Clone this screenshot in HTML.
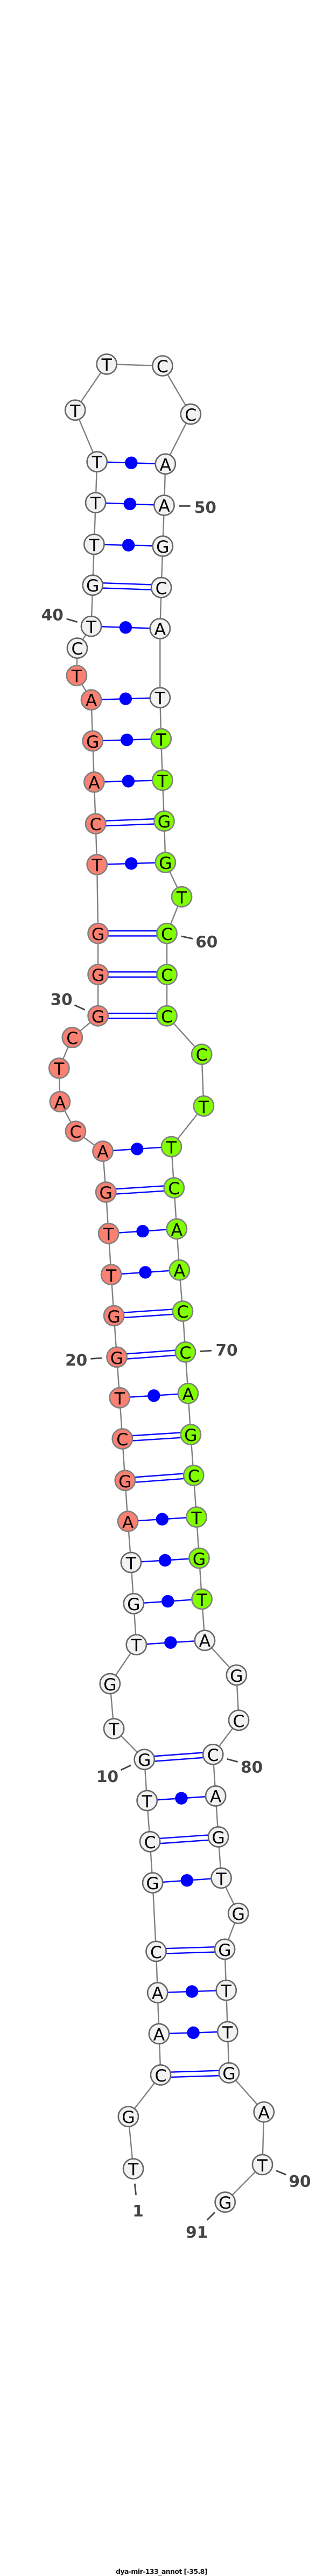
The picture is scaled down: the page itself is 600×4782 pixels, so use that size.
<!DOCTYPE html>
<html><head><meta charset="utf-8"><title>dya-mir-133_annot</title>
<style>
html,body{margin:0;padding:0;background:#fff}
svg{display:block}
.b{stroke:#808080;stroke-width:2.4;fill:none}
.p{stroke:#0000ff;stroke-width:2.4;fill:none}
.d{fill:#0000ff}
.w circle{fill:#f2f2f2;stroke:#666;stroke-width:2.6}
.s circle{fill:#fa8072;stroke:#808080;stroke-width:2.6}
.g circle{fill:#7fff00;stroke:#808080;stroke-width:2.6}
.n text{font:31.5px "DejaVu Sans",sans-serif;fill:#000;text-anchor:middle}
.t{stroke:#444;stroke-width:2.8}
.l{font:bold 29.5px "DejaVu Sans",sans-serif;fill:#444;text-anchor:middle}
.h{font:bold 12.5px "DejaVu Sans",sans-serif;fill:#111}
</style></head><body>
<svg xmlns="http://www.w3.org/2000/svg" width="600" height="4782" viewBox="0 0 600 4782">
<rect width="600" height="4782" fill="#fff"/>
<polyline class="b" points="247.6,4026 238.4,3929 298.5,3852 295.4,3775.5 292.7,3699.2 290,3622.4 283.6,3495.2 278.6,3418.8 273.2,3342.5 268.2,3266.2 211.6,3209 204.3,3125.5 253.3,3053.2 248.3,2976.9 243.4,2900.5 237.6,2824.2 232.3,2748.3 227.3,2671 222.3,2594.8 217,2519.3 211.6,2442.5 206.6,2366.2 201.7,2289.8 196.7,2213 191,2137.1 140.4,2100.1 111.4,2045.2 109.8,1983 134.3,1926 182.1,1885.8 182.1,1809 182.1,1732.7 180.2,1605 177.6,1529.1 174.9,1451.9 172.2,1375.5 169.5,1299.2 142.4,1254.1 143.5,1203.2 169.5,1162.6 172.2,1086.3 174.9,1010.4 177.6,933.1 180.2,857.2 139.7,761.3 198.2,676 301.9,679.1 354.3,768.8 307.3,861.3 305,938 302.3,1013.9 299.6,1090.7 297.3,1167 297.3,1295.2 299.2,1371.5 301.9,1448.3 305,1524.2 307.3,1601 337.5,1664.8 310,1732.7 310,1809 310,1885.8 374.6,1957.2 378.4,2053.2 318.4,2128.7 323.3,2205 328.3,2281.3 333.3,2357.7 339.4,2434 344.4,2509.9 349.4,2586.7 354.3,2663 359.7,2738.9 365,2816.2 370,2892.5 375,2968.4 380.4,3045.2 439.3,3109.5 443.5,3193.4 395.7,3256.8 400.6,3334 405.6,3409.9 411,3486.3 442.7,3551.9 417.5,3618.4 420.2,3694.7 422.8,3771.5 425.5,3847.9 490.2,3920.6 487.5,4018.4 418.2,4088"/>
<g class="p">
<line x1="180.2" y1="857.2" x2="307.3" y2="861.3"/>
<line x1="177.6" y1="933.1" x2="305" y2="938"/>
<line x1="174.9" y1="1010.4" x2="302.3" y2="1013.9"/>
<line x1="172.2" y1="1081.6" x2="299.6" y2="1086"/><line x1="172.2" y1="1091" x2="299.6" y2="1095.4"/>
<line x1="169.5" y1="1162.6" x2="297.3" y2="1167"/>
<line x1="169.5" y1="1299.2" x2="297.3" y2="1295.2"/>
<line x1="172.2" y1="1375.5" x2="299.2" y2="1371.5"/>
<line x1="174.9" y1="1451.9" x2="301.9" y2="1448.3"/>
<line x1="177.6" y1="1524.4" x2="305" y2="1519.5"/><line x1="177.6" y1="1533.8" x2="305" y2="1528.9"/>
<line x1="180.2" y1="1605" x2="307.3" y2="1601"/>
<line x1="182.1" y1="1728" x2="310" y2="1728"/><line x1="182.1" y1="1737.4" x2="310" y2="1737.4"/>
<line x1="182.1" y1="1804.3" x2="310" y2="1804.3"/><line x1="182.1" y1="1813.7" x2="310" y2="1813.7"/>
<line x1="182.1" y1="1881.1" x2="310" y2="1881.1"/><line x1="182.1" y1="1890.5" x2="310" y2="1890.5"/>
<line x1="191" y1="2137.1" x2="318.4" y2="2128.7"/>
<line x1="196.7" y1="2208.3" x2="323.3" y2="2200.3"/><line x1="196.7" y1="2217.7" x2="323.3" y2="2209.7"/>
<line x1="201.7" y1="2289.8" x2="328.3" y2="2281.3"/>
<line x1="206.6" y1="2366.2" x2="333.3" y2="2357.7"/>
<line x1="211.6" y1="2437.8" x2="339.4" y2="2429.3"/><line x1="211.6" y1="2447.2" x2="339.4" y2="2438.7"/>
<line x1="217" y1="2514.6" x2="344.4" y2="2505.2"/><line x1="217" y1="2524" x2="344.4" y2="2514.6"/>
<line x1="222.3" y1="2594.8" x2="349.4" y2="2586.7"/>
<line x1="227.3" y1="2666.3" x2="354.3" y2="2658.3"/><line x1="227.3" y1="2675.7" x2="354.3" y2="2667.7"/>
<line x1="232.3" y1="2743.6" x2="359.7" y2="2734.2"/><line x1="232.3" y1="2753" x2="359.7" y2="2743.6"/>
<line x1="237.6" y1="2824.2" x2="365" y2="2816.2"/>
<line x1="243.4" y1="2900.5" x2="370" y2="2892.5"/>
<line x1="248.3" y1="2976.9" x2="375" y2="2968.4"/>
<line x1="253.3" y1="3053.2" x2="380.4" y2="3045.2"/>
<line x1="268.2" y1="3261.5" x2="395.7" y2="3252.1"/><line x1="268.2" y1="3270.9" x2="395.7" y2="3261.5"/>
<line x1="273.2" y1="3342.5" x2="400.6" y2="3334"/>
<line x1="278.6" y1="3414.1" x2="405.6" y2="3405.2"/><line x1="278.6" y1="3423.5" x2="405.6" y2="3414.6"/>
<line x1="283.6" y1="3495.2" x2="411" y2="3486.3"/>
<line x1="290" y1="3617.7" x2="417.5" y2="3613.7"/><line x1="290" y1="3627.1" x2="417.5" y2="3623.1"/>
<line x1="292.7" y1="3699.2" x2="420.2" y2="3694.7"/>
<line x1="295.4" y1="3775.5" x2="422.8" y2="3771.5"/>
<line x1="298.5" y1="3847.2" x2="425.5" y2="3843.2"/><line x1="298.5" y1="3856.6" x2="425.5" y2="3852.6"/>
</g>
<g class="d">
<circle cx="243.8" cy="859.2" r="11.7"/>
<circle cx="241.3" cy="935.5" r="11.7"/>
<circle cx="238.6" cy="1012.1" r="11.7"/>
<circle cx="233.4" cy="1164.8" r="11.7"/>
<circle cx="233.4" cy="1297.2" r="11.7"/>
<circle cx="235.7" cy="1373.5" r="11.7"/>
<circle cx="238.4" cy="1450.1" r="11.7"/>
<circle cx="243.8" cy="1603" r="11.7"/>
<circle cx="254.7" cy="2132.9" r="11.7"/>
<circle cx="265" cy="2285.6" r="11.7"/>
<circle cx="270" cy="2361.9" r="11.7"/>
<circle cx="285.8" cy="2590.8" r="11.7"/>
<circle cx="301.3" cy="2820.2" r="11.7"/>
<circle cx="306.7" cy="2896.5" r="11.7"/>
<circle cx="311.7" cy="2972.6" r="11.7"/>
<circle cx="316.9" cy="3049.2" r="11.7"/>
<circle cx="336.9" cy="3338.2" r="11.7"/>
<circle cx="347.3" cy="3490.7" r="11.7"/>
<circle cx="356.5" cy="3697" r="11.7"/>
<circle cx="359.1" cy="3773.5" r="11.7"/>
</g>
<g class="n w">
<circle cx="247.6" cy="4026" r="18.6"/><text x="247.6" y="4038">T</text>
<circle cx="238.4" cy="3929.1" r="18.6"/><text x="238.4" y="3941">G</text>
<circle cx="298.5" cy="3851.9" r="18.6"/><text x="298.5" y="3864">C</text>
<circle cx="295.4" cy="3775.5" r="18.6"/><text x="295.4" y="3788">A</text>
<circle cx="292.7" cy="3699.2" r="18.6"/><text x="292.7" y="3711">A</text>
<circle cx="290" cy="3622.4" r="18.6"/><text x="290" y="3635">C</text>
<circle cx="283.6" cy="3495.2" r="18.6"/><text x="283.6" y="3507">G</text>
<circle cx="278.6" cy="3418.8" r="18.6"/><text x="278.6" y="3431">C</text>
<circle cx="273.2" cy="3342.5" r="18.6"/><text x="273.2" y="3355">T</text>
<circle cx="268.2" cy="3266.2" r="18.6"/><text x="268.2" y="3278">G</text>
<circle cx="211.6" cy="3209" r="18.6"/><text x="211.6" y="3221">T</text>
<circle cx="204.3" cy="3125.5" r="18.6"/><text x="204.3" y="3138">G</text>
<circle cx="253.3" cy="3053.2" r="18.6"/><text x="253.3" y="3065">T</text>
<circle cx="248.3" cy="2976.9" r="18.6"/><text x="248.3" y="2989">G</text>
<circle cx="243.4" cy="2900.5" r="18.6"/><text x="243.4" y="2913">T</text>
<circle cx="143.5" cy="1203.2" r="18.6"/><text x="143.5" y="1215">C</text>
<circle cx="169.5" cy="1162.6" r="18.6"/><text x="169.5" y="1175">T</text>
<circle cx="172.2" cy="1086.3" r="18.6"/><text x="172.2" y="1098">G</text>
<circle cx="174.9" cy="1010.4" r="18.6"/><text x="174.9" y="1023">T</text>
<circle cx="177.6" cy="933.1" r="18.6"/><text x="177.6" y="945">T</text>
<circle cx="180.2" cy="857.2" r="18.6"/><text x="180.2" y="869">T</text>
<circle cx="139.7" cy="761.3" r="18.6"/><text x="139.7" y="774">T</text>
<circle cx="198.2" cy="676" r="18.6"/><text x="198.2" y="688">T</text>
<circle cx="301.9" cy="679.1" r="18.6"/><text x="301.9" y="691">C</text>
<circle cx="354.3" cy="768.8" r="18.6"/><text x="354.3" y="781">C</text>
<circle cx="307.3" cy="861.3" r="18.6"/><text x="307.3" y="874">A</text>
<circle cx="305" cy="938" r="18.6"/><text x="305" y="950">A</text>
<circle cx="302.3" cy="1013.9" r="18.6"/><text x="302.3" y="1026">G</text>
<circle cx="299.6" cy="1090.7" r="18.6"/><text x="299.6" y="1103">C</text>
<circle cx="297.3" cy="1167" r="18.6"/><text x="297.3" y="1179">A</text>
<circle cx="297.3" cy="1295.2" r="18.6"/><text x="297.3" y="1307">T</text>
<circle cx="380.4" cy="3045.2" r="18.6"/><text x="380.4" y="3057">A</text>
<circle cx="439.3" cy="3109.5" r="18.6"/><text x="439.3" y="3122">G</text>
<circle cx="443.5" cy="3193.4" r="18.6"/><text x="443.5" y="3206">C</text>
<circle cx="395.7" cy="3256.8" r="18.6"/><text x="395.7" y="3269">C</text>
<circle cx="400.6" cy="3334" r="18.6"/><text x="400.6" y="3346">A</text>
<circle cx="405.6" cy="3409.9" r="18.6"/><text x="405.6" y="3422">G</text>
<circle cx="411" cy="3486.3" r="18.6"/><text x="411" y="3499">T</text>
<circle cx="442.7" cy="3551.9" r="18.6"/><text x="442.7" y="3564">G</text>
<circle cx="417.5" cy="3618.4" r="18.6"/><text x="417.5" y="3631">G</text>
<circle cx="420.2" cy="3694.7" r="18.6"/><text x="420.2" y="3707">T</text>
<circle cx="422.8" cy="3771.5" r="18.6"/><text x="422.8" y="3784">T</text>
<circle cx="425.5" cy="3847.9" r="18.6"/><text x="425.5" y="3860">G</text>
<circle cx="490.2" cy="3920.6" r="18.6"/><text x="490.2" y="3933">A</text>
<circle cx="487.5" cy="4018.4" r="18.6"/><text x="487.5" y="4031">T</text>
<circle cx="418.2" cy="4088" r="18.6"/><text x="418.2" y="4100">G</text>
</g>
<g class="n s">
<circle cx="237.6" cy="2824.2" r="18.6"/><text x="237.6" y="2837">A</text>
<circle cx="232.3" cy="2748.3" r="18.6"/><text x="232.3" y="2761">G</text>
<circle cx="227.3" cy="2671" r="18.6"/><text x="227.3" y="2683">C</text>
<circle cx="222.3" cy="2594.8" r="18.6"/><text x="222.3" y="2607">T</text>
<circle cx="217" cy="2519.3" r="18.6"/><text x="217" y="2532">G</text>
<circle cx="211.6" cy="2442.5" r="18.6"/><text x="211.6" y="2455">G</text>
<circle cx="206.6" cy="2366.2" r="18.6"/><text x="206.6" y="2379">T</text>
<circle cx="201.7" cy="2289.8" r="18.6"/><text x="201.7" y="2302">T</text>
<circle cx="196.7" cy="2213" r="18.6"/><text x="196.7" y="2225">G</text>
<circle cx="191" cy="2137.1" r="18.6"/><text x="191" y="2149">A</text>
<circle cx="140.4" cy="2100.1" r="18.6"/><text x="140.4" y="2112">C</text>
<circle cx="111.4" cy="2045.2" r="18.6"/><text x="111.4" y="2058">A</text>
<circle cx="109.8" cy="1983" r="18.6"/><text x="109.8" y="1995">T</text>
<circle cx="134.3" cy="1926" r="18.6"/><text x="134.3" y="1938">C</text>
<circle cx="182.1" cy="1885.8" r="18.6"/><text x="182.1" y="1898">G</text>
<circle cx="182.1" cy="1809" r="18.6"/><text x="182.1" y="1821">G</text>
<circle cx="182.1" cy="1732.7" r="18.6"/><text x="182.1" y="1745">G</text>
<circle cx="180.2" cy="1605" r="18.6"/><text x="180.2" y="1617">T</text>
<circle cx="177.6" cy="1529.1" r="18.6"/><text x="177.6" y="1541">C</text>
<circle cx="174.9" cy="1451.9" r="18.6"/><text x="174.9" y="1464">A</text>
<circle cx="172.2" cy="1375.5" r="18.6"/><text x="172.2" y="1388">G</text>
<circle cx="169.5" cy="1299.2" r="18.6"/><text x="169.5" y="1311">A</text>
<circle cx="142.4" cy="1254.1" r="18.6"/><text x="142.4" y="1266">T</text>
</g>
<g class="n g">
<circle cx="299.2" cy="1371.5" r="18.6"/><text x="299.2" y="1384">T</text>
<circle cx="301.9" cy="1448.3" r="18.6"/><text x="301.9" y="1461">T</text>
<circle cx="305" cy="1524.2" r="18.6"/><text x="305" y="1536">G</text>
<circle cx="307.3" cy="1601" r="18.6"/><text x="307.3" y="1613">G</text>
<circle cx="337.5" cy="1664.8" r="18.6"/><text x="337.5" y="1677">T</text>
<circle cx="310" cy="1732.7" r="18.6"/><text x="310" y="1745">C</text>
<circle cx="310" cy="1809" r="18.6"/><text x="310" y="1821">C</text>
<circle cx="310" cy="1885.8" r="18.6"/><text x="310" y="1898">C</text>
<circle cx="374.6" cy="1957.2" r="18.6"/><text x="374.6" y="1969">C</text>
<circle cx="378.4" cy="2053.2" r="18.6"/><text x="378.4" y="2066">T</text>
<circle cx="318.4" cy="2128.7" r="18.6"/><text x="318.4" y="2141">T</text>
<circle cx="323.3" cy="2205" r="18.6"/><text x="323.3" y="2217">C</text>
<circle cx="328.3" cy="2281.3" r="18.6"/><text x="328.3" y="2294">A</text>
<circle cx="333.3" cy="2357.7" r="18.6"/><text x="333.3" y="2370">A</text>
<circle cx="339.4" cy="2434" r="18.6"/><text x="339.4" y="2446">C</text>
<circle cx="344.4" cy="2509.9" r="18.6"/><text x="344.4" y="2522">C</text>
<circle cx="349.4" cy="2586.7" r="18.6"/><text x="349.4" y="2599">A</text>
<circle cx="354.3" cy="2663" r="18.6"/><text x="354.3" y="2675">G</text>
<circle cx="359.7" cy="2738.9" r="18.6"/><text x="359.7" y="2751">C</text>
<circle cx="365" cy="2816.2" r="18.6"/><text x="365" y="2829">T</text>
<circle cx="370" cy="2892.5" r="18.6"/><text x="370" y="2905">G</text>
<circle cx="375" cy="2968.4" r="18.6"/><text x="375" y="2981">T</text>
</g>
<g class="t">
<line x1="333" y1="939.4" x2="353.6" y2="939.4"/>
<line x1="123.6" y1="1148.8" x2="143.5" y2="1154.6"/>
<line x1="336.7" y1="1738" x2="358.2" y2="1742.5"/>
<line x1="138.5" y1="1865.7" x2="157.7" y2="1874.6"/>
<line x1="371.6" y1="2508.6" x2="393" y2="2507.2"/>
<line x1="168.4" y1="2522.4" x2="189.8" y2="2521"/>
<line x1="224.6" y1="3285.8" x2="243.4" y2="3276.9"/>
<line x1="421.7" y1="3265.3" x2="441.6" y2="3270.6"/>
<line x1="512.8" y1="4029.5" x2="531.5" y2="4037.1"/>
<line x1="250.3" y1="4053.7" x2="252.6" y2="4074.6"/>
<line x1="384.6" y1="4121.2" x2="399.1" y2="4106.9"/>
</g>
<g class="l">
<text x="381.4" y="952">50</text>
<text x="97.3" y="1151.4">40</text>
<text x="383.8" y="1758.6">60</text>
<text x="114.2" y="1865.3">30</text>
<text x="421" y="2516.6">70</text>
<text x="141.7" y="2535">20</text>
<text x="199.5" y="3308">10</text>
<text x="467.7" y="3290.3">80</text>
<text x="557" y="4059.5">90</text>
<text x="256.5" y="4114.5">1</text>
<text x="365.6" y="4153.9">91</text>
</g>
<text class="h" x="215" y="4778" textLength="170.5" lengthAdjust="spacing">dya-mir-133_annot [-35.8]</text>
</svg>
</body></html>
